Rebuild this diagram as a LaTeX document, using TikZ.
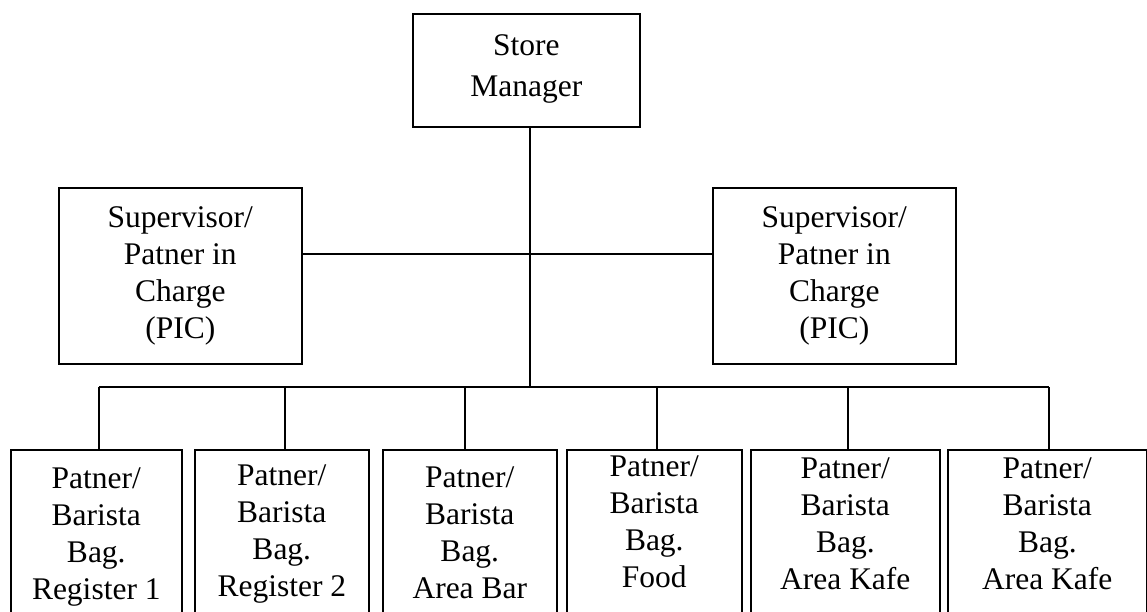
\documentclass[tikz,border=0pt]{standalone}
\usepackage{fontspec}
\setmainfont{Liberation Serif}

\begin{document}
\begin{tikzpicture}[x=1pt, y=-1pt, line width=1.6pt,
        post/.style={draw, anchor=north west, inner sep=0pt, align=flush center,
            font=\fontsize{31.5}{37}\selectfont},
        staff/.style={post, text depth=200pt}]
    \path[use as bounding box, clip] (0,0) rectangle (1147,612);

    % top
    \node[post, text width=227pt, text height=42pt, text depth=71pt,
        font=\fontsize{31.5}{41}\selectfont] (store) at (412,13) {Store\\Manager};

    % supervisors
    \node[post, text width=243pt, text height=40pt, text depth=136pt]
        (supl) at (58,187) {Supervisor/\\Patner in\\Charge\\(PIC)};
    \node[post, text width=243pt, text height=40pt, text depth=136pt]
        (supr) at (712,187) {Supervisor/\\Patner in\\Charge\\(PIC)};

    % partners
    \node[staff, text width=171pt, text height=39pt] (b1) at (10,449)
        {Patner/\\Barista\\Bag.\\Register 1};
    \node[staff, text width=174pt, text height=36pt] (b2) at (194,449)
        {Patner/\\Barista\\Bag.\\Register 2};
    \node[staff, text width=174pt, text height=38pt] (b3) at (382,449)
        {Patner/\\Barista\\Bag.\\Area Bar};
    \node[staff, text width=175pt, text height=27pt] (b4) at (566,449)
        {Patner/\\Barista\\Bag.\\Food};
    \node[staff, text width=189pt, text height=29pt] (b5) at (750,449)
        {Patner/\\Barista\\Bag.\\Area Kafe};
    \node[staff, text width=199pt, text height=29pt] (b6) at (947,449)
        {Patner/\\Barista\\Bag.\\Area Kafe};

    \coordinate (hub) at (530,387);
    \coordinate (mid) at (530,254);

    \draw (hub |- store.south) -- (hub);
    \draw (mid -| supl.east) -- (mid -| supr.west);
    \draw ([xshift=2.5pt]b1.north |- hub) -- ([xshift=1.5pt]b6.north |- hub);
    \foreach \b/\dx in {b1/2.5, b2/3, b3/-5, b4/2.5, b5/2.5, b6/1.5}
        \draw ([xshift=\dx pt]\b.north |- hub) -- ([xshift=\dx pt]\b.north);

\end{tikzpicture}
\end{document}
